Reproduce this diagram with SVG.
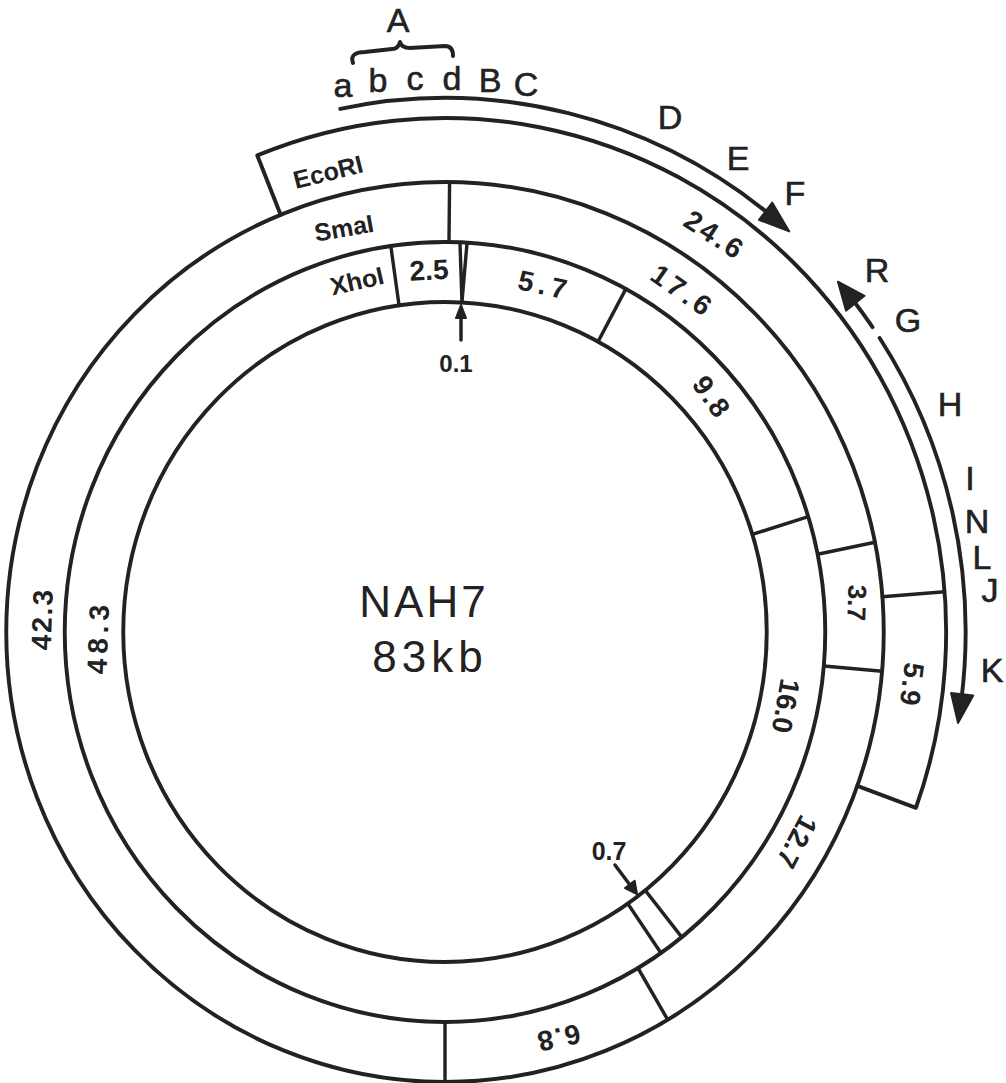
<svg xmlns="http://www.w3.org/2000/svg" width="1006" height="1083" viewBox="0 0 1006 1083">
<defs>
<style>
.ln{fill:none;stroke:#222;stroke-width:4;stroke-linecap:round;stroke-linejoin:round}
.cut{fill:none;stroke:#222;stroke-width:3.5;stroke-linecap:round;stroke-linejoin:round}
.hd{fill:#222;stroke:#222;stroke-width:2;stroke-linejoin:round}
.num{font-family:"Liberation Sans",Arial,sans-serif;font-weight:bold;font-size:28px;fill:#222;text-anchor:middle}
.enz{font-family:"Liberation Sans",Arial,sans-serif;font-weight:bold;font-size:25px;fill:#222;text-anchor:middle}
.big{font-family:"Liberation Sans",Arial,sans-serif;font-size:34px;fill:#222;stroke:#222;stroke-width:0.6;text-anchor:middle}
.title{font-family:"Liberation Sans",Arial,sans-serif;font-size:44px;fill:#222;text-anchor:middle}
</style>
</defs>
<rect width="1006" height="1083" fill="#fff"/>
<g transform="translate(445,632) scale(0.975,1)">
  <g id="rings">
    <circle class="ln" r="330"/>
    <circle class="ln" r="390"/>
    <circle class="ln" r="450"/>
  </g>
  <g id="ecori">
    <path class="ln" d="M-168.6,-417.2 L-192.5,-476.6 A514,514 0 0 1 483.0,175.8 L422.9,153.9"/>
    <path class="cut" d="M448.6,-35.3 L512.4,-40.3"/>
  </g>
  <g id="smai">
    <path class="cut" d="M4.1,-390 L4.7,-450 M382.2,-77.8 L441.0,-89.7 M388.5,34.0 L448.3,39.2 M197.9,336.0 L228.4,387.7 M0,390 L0,450"/>
  </g>
  <g id="xhoi">
    <path class="cut" d="M-47.1,-326.6 L-55.6,-386.0 M15.4,-389 L17.4,-330 L22.6,-389 M157.0,-290.3 L185.5,-343.1 M315.2,-97.6 L372.6,-115.3 M205.4,258.3 L242.8,305.2 M187.4,271.6 L221.5,321.0"/>
  </g>
  <g id="connectors">
    <path class="ln" d="M-107.4,-523.1 A534,534 0 0 1 336.1,-415.0"/>
    <polygon class="hd" points="353.1,-400.6 335.6,-429.5 322.0,-412.1"/>
    <path class="ln" d="M438.5,-304.8 A534,534 0 0 0 417.9,-332.4"/>
    <polygon class="hd" points="403.0,-350.3 430.3,-336.2 411.3,-321.4"/>
    <path class="ln" d="M445.8,-294.0 A534,534 0 0 1 529.4,69.7"/>
    <polygon class="hd" points="526.2,90.9 541.8,63.6 519.0,61.0"/>
  </g>
</g>
<g id="pointers">
  <path class="cut" d="M461,340 L461,316"/>
  <polygon class="hd" points="461,305 456,318 466,318"/>
  <path class="cut" d="M615,865 L630,885"/>
  <polygon class="hd" points="637,894 634.6,880.8 625.0,888.0"/>
</g>
<g id="brace">
  <path class="ln" d="M353,63 C350,55 356,52 365,52 L392,49 C397,49 399,46 400,42 C401,46 404,48 410,48 L445,46 C451,46 453,50 453,56"/>
</g>
<g id="labels">
  <text class="title" x="424" y="617" letter-spacing="3">NAH7</text>
  <text class="title" x="430" y="672" letter-spacing="5">83kb</text>
  <text class="enz" transform="translate(328,172) rotate(-14)" dy="0.35em">EcoRI</text>
  <text class="enz" transform="translate(344,228) rotate(-10)" dy="0.35em">SmaI</text>
  <text class="enz" transform="translate(357,281) rotate(-13)" dy="0.35em">XhoI</text>
  <text class="num" transform="translate(429,270) rotate(-3)" dy="0.35em">2.5</text>
  <text class="num" style="font-size:24px" transform="translate(456,364)" dy="0.35em">0.1</text>
  <text class="num" transform="translate(545,285) rotate(12)" dy="0.35em" letter-spacing="5">5.7</text>
  <text class="num" transform="translate(715,235) rotate(33)" dy="0.35em" letter-spacing="3">24.6</text>
  <text class="num" transform="translate(683,291) rotate(35)" dy="0.35em" letter-spacing="4">17.6</text>
  <text class="num" transform="translate(712,397) rotate(55)" dy="0.35em" letter-spacing="2">9.8</text>
  <text class="num" style="font-size:26px" transform="translate(857,603) rotate(92)" dy="0.35em">3.7</text>
  <text class="num" transform="translate(912,685) rotate(97)" dy="0.35em" letter-spacing="2">5.9</text>
  <text class="num" transform="translate(786,706) rotate(100)" dy="0.35em">16.0</text>
  <text class="num" transform="translate(797,842) rotate(118)" dy="0.35em">12.7</text>
  <text class="num" transform="translate(558,1038) rotate(168)" dy="0.35em" letter-spacing="2">6.8</text>
  <text class="num" style="font-size:25px" transform="translate(609,851)" dy="0.35em">0.7</text>
  <text class="num" transform="translate(42,619) rotate(-88)" dy="0.35em" letter-spacing="2">42.3</text>
  <text class="num" transform="translate(98,637) rotate(-88)" dy="0.35em" letter-spacing="5">48.3</text>
  <text class="big" x="398" y="32">A</text>
  <text class="big" x="343" y="97">a</text>
  <text class="big" x="378" y="92">b</text>
  <text class="big" x="415" y="90">c</text>
  <text class="big" x="452" y="90">d</text>
  <text class="big" x="490" y="92">B</text>
  <text class="big" x="526" y="96">C</text>
  <text class="big" x="670" y="129">D</text>
  <text class="big" x="738" y="170">E</text>
  <text class="big" x="795" y="205">F</text>
  <text class="big" x="877" y="282">R</text>
  <text class="big" x="908" y="332">G</text>
  <text class="big" x="950" y="416">H</text>
  <text class="big" x="970" y="490">I</text>
  <text class="big" x="977" y="533">N</text>
  <text class="big" x="982" y="569">L</text>
  <text class="big" x="990" y="602">J</text>
  <text class="big" x="992" y="682">K</text>
</g>
</svg>
